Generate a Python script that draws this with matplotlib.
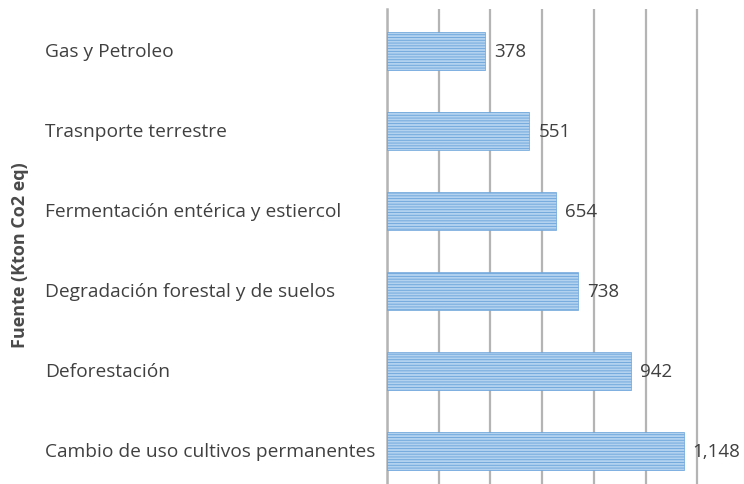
import matplotlib
matplotlib.use("Agg")
import matplotlib.pyplot as plt

# data
fuentes = [
    "Gas y Petroleo",
    "Trasnporte terrestre",
    "Fermentación entérica y estiercol",
    "Degradación forestal y de suelos",
    "Deforestación",
    "Cambio de uso cultivos permanentes",
]
valores = [378, 551, 654, 738, 942, 1148]
ticks_x = [0, 200, 400, 600, 800, 1000, 1200]

plt.rcParams["font.family"] = ["Open Sans", "DejaVu Sans"]
plt.rcParams["hatch.linewidth"] = 0.6

W, H = 744, 485
fig = plt.figure(figsize=(W / 100, H / 100), dpi=100)
ax = fig.add_axes([387 / W, 0, 1 - 387 / W, (H - 10) / H])

pos = list(range(len(fuentes)))
ax.barh(pos, valores, height=0.48, color="#b2d2f0", edgecolor="#6aa3da",
        linewidth=0.5, hatch="------", zorder=3)

ax.set_xlim(0, 1381)
ax.set_ylim(5.41, -0.525)
ax.set_xticks(ticks_x)
ax.set_yticks([])
ax.tick_params(axis="x", length=0, labelbottom=False)
ax.grid(axis="x", color="#b4b4b4", linewidth=1.6, zorder=0)
ax.axvline(0, color="#b4b4b4", linewidth=1.8, clip_on=False, zorder=1)
for s in ax.spines.values():
    s.set_visible(False)

for p, v in zip(pos, valores):
    ax.annotate(f"{v:,}", (v, p), xytext=(6.5, 0), textcoords="offset points",
                ha="left", va="center", fontsize=13.5, color="#404040", zorder=4)

# category labels, left aligned as in the reference
for p, name in zip(pos, fuentes):
    y_fig = ax.transData.transform((0, p))[1] / H
    fig.text(45 / W, y_fig, name, fontsize=13.8, color="#404040",
             va="center", ha="left")

fig.text(20 / W, 1 - 255 / H, "Fuente (Kton Co2 eq)", rotation=90,
         fontsize=13, fontweight="bold", color="#4a4a4a",
         va="center", ha="center")

fig.savefig("out.png", dpi=100)
